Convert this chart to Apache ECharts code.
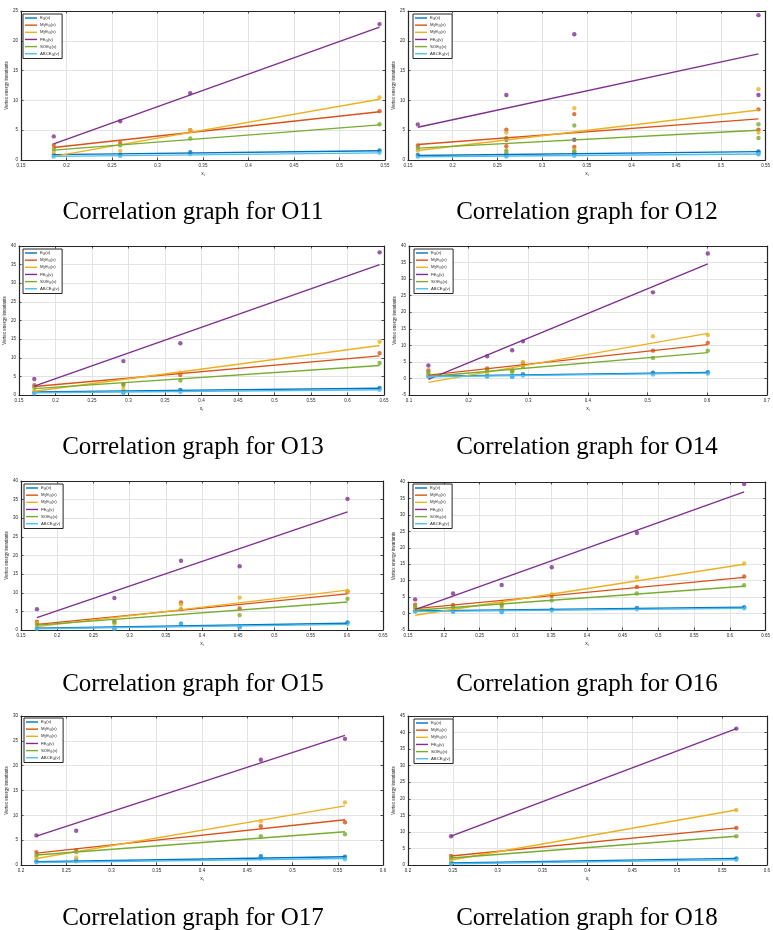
<!DOCTYPE html>
<html>
<head>
<meta charset="utf-8">
<script src="https://cdn.jsdelivr.net/npm/echarts@6/dist/echarts.min.js"></script>
<style>
  html, body { margin: 0; padding: 0; background: #fff; }
  #chart { width: 773px; height: 930px; }
</style>
</head>
<body>
<div id="chart"></div>
<script>
// series order: E, M1E, M2E, FE, SOE, ABCE
const labels = ['E_G(v)', 'M_1E_G(v)', 'M_2E_G(v)', 'FE_G(v)', 'SOE_G(v)', 'ABCE_G(v)'];
const colors = ['#0072BD', '#D95319', '#EDB120', '#7E2F8E', '#77AC30', '#4DBEEE'];

// O11
const o11X = [0.186, 0.259, 0.336, 0.544];
const o11Y = [
  [0.84, 0.85, 1.3, 1.6],
  [2.5, 2.85, 5.0, 8.2],
  [1.4, 1.5, 5.0, 10.5],
  [3.96, 6.5, 11.2, 22.8],
  [1.84, 2.45, 3.6, 6.0],
  [0.56, 0.7, 1.0, 1.2]
];
const o11FitX = [0.186, 0.544];
const o11Fit = [[0.9, 1.55], [2.1, 8.1], [0.6, 10.2], [2.7, 22.3], [1.65, 5.9], [0.6, 1.2]];

// O12
const o12X = [0.161, 0.26, 0.26, 0.336, 0.336, 0.542, 0.542];
const o12Y = [
  [0.84, 1.0, 0.7, 1.2, 0.9, 1.45, 1.2],
  [2.45, 5.08, 2.3, 7.7, 2.2, 8.5, 5.1],
  [1.6, 4.6, 1.3, 8.7, 1.7, 11.9, 4.6],
  [5.97, 10.9, 3.4, 21.1, 3.4, 24.3, 10.9],
  [2.0, 3.7, 1.6, 5.8, 1.45, 6.0, 3.7],
  [0.56, 0.8, 0.6, 0.9, 0.7, 1.0, 0.95]
];
const o12FitX = [0.161, 0.542];
const o12Fit = [[0.75, 1.4], [2.6, 6.9], [1.6, 8.4], [5.5, 17.8], [2.0, 5.0], [0.55, 1.0]];

// O13
const o13X = [0.171, 0.293, 0.371, 0.644];
const o13Y = [
  [0.7, 0.8, 1.35, 1.9],
  [2.6, 3.0, 5.4, 11.25],
  [1.25, 1.6, 6.0, 14.3],
  [4.3, 9.1, 13.9, 38.3],
  [2.05, 2.7, 3.9, 8.6],
  [0.45, 0.55, 0.8, 1.4]
];
const o13FitX = [0.171, 0.644];
const o13Fit = [[0.85, 1.8], [2.3, 10.5], [1.0, 13.3], [2.4, 35.0], [1.7, 7.9], [0.6, 1.4]];

// O14
const o14X = [0.1325, 0.231, 0.273, 0.291, 0.509, 0.601];
const o14Y = [
  [0.8, 0.7, 0.6, 1.3, 1.7, 1.9],
  [2.4, 3.0, 2.4, 4.7, 8.4, 10.75],
  [1.2, 1.6, 2.2, 5.0, 12.75, 13.15],
  [3.9, 6.7, 8.5, 11.2, 26.0, 37.75],
  [1.8, 2.4, 2.0, 3.5, 6.2, 8.4],
  [0.6, 0.6, 0.4, 0.9, 1.2, 1.5]
];
const o14FitX = [0.1325, 0.601];
const o14Fit = [[0.7, 1.8], [1.0, 10.2], [-1.2, 13.6], [-0.3, 34.6], [0.6, 7.8], [0.5, 1.6]];

// O15
const o15X = [0.172, 0.279, 0.371, 0.452, 0.601];
const o15Y = [
  [0.45, 0.45, 1.7, 0.9, 2.05],
  [2.2, 2.4, 7.4, 5.8, 10.3],
  [1.8, 1.7, 6.8, 8.7, 10.45],
  [5.6, 8.6, 18.6, 17.1, 35.2],
  [1.4, 2.05, 5.6, 4.0, 8.4],
  [0.35, 0.35, 1.5, 0.7, 1.7]
];
const o15FitX = [0.172, 0.601];
const o15Fit = [[0.45, 1.8], [1.5, 9.7], [0.9, 10.7], [3.3, 31.7], [1.3, 7.5], [0.35, 1.5]];

// O16
const o16X = [0.16, 0.213, 0.281, 0.351, 0.47, 0.62];
const o16Y = [
  [0.8, 0.7, 0.6, 1.2, 1.7, 1.9],
  [2.7, 2.6, 2.9, 5.4, 8.1, 11.25],
  [1.5, 1.3, 1.5, 5.8, 11.0, 15.2],
  [4.3, 6.1, 8.7, 14.1, 24.5, 39.4],
  [2.0, 2.0, 2.4, 4.0, 6.1, 8.6],
  [0.6, 0.5, 0.4, 0.9, 1.3, 1.6]
];
const o16FitX = [0.16, 0.62];
const o16Fit = [[0.8, 1.9], [1.5, 11.0], [-0.5, 15.0], [1.2, 37.0], [1.0, 8.3], [0.6, 1.6]];

// O17
const o17X = [0.217, 0.261, 0.465, 0.558];
const o17Y = [
  [0.75, 0.9, 1.75, 1.65],
  [2.6, 3.0, 7.8, 8.6],
  [1.5, 1.5, 8.8, 12.6],
  [5.96, 6.9, 21.2, 25.4],
  [2.0, 2.6, 5.8, 6.2],
  [0.55, 0.75, 1.3, 1.15]
];
const o17FitX = [0.217, 0.558];
const o17Fit = [[0.65, 1.65], [2.4, 9.1], [1.3, 11.9], [5.8, 26.1], [2.0, 6.7], [0.5, 1.3]];

// O18
const o18X = [0.248, 0.566];
const o18Y = [
  [0.6, 2.0],
  [2.7, 11.2],
  [1.5, 16.6],
  [8.7, 41.2],
  [2.1, 8.7],
  [0.4, 1.6]
];
const o18FitX = [0.248, 0.566];
const o18Fit = [[0.6, 2.0], [2.7, 11.2], [1.5, 16.6], [8.7, 41.2], [2.1, 8.7], [0.4, 1.6]];

const panels = [
  { title: 'Correlation graph for O11', x: o11X, y: o11Y, fx: o11FitX, fit: o11Fit, xr: [0.15, 0.55, 0.05], yr: [0, 25, 5],
    grid: [21, 11, 364, 149], legend: [23, 14], cap: [193, 212] },
  { title: 'Correlation graph for O12', x: o12X, y: o12Y, fx: o12FitX, fit: o12Fit, xr: [0.15, 0.55, 0.05], yr: [0, 25, 5],
    grid: [408, 11, 365, 149], legend: [413, 14], cap: [587, 212] },
  { title: 'Correlation graph for O13', x: o13X, y: o13Y, fx: o13FitX, fit: o13Fit, xr: [0.15, 0.65, 0.05], yr: [0, 40, 5],
    grid: [19, 246, 365, 149], legend: [23, 249], cap: [193, 447] },
  { title: 'Correlation graph for O14', x: o14X, y: o14Y, fx: o14FitX, fit: o14Fit, xr: [0.1, 0.7, 0.1], yr: [-5, 40, 5],
    grid: [409, 246, 364, 149], legend: [414, 249], cap: [587, 447] },
  { title: 'Correlation graph for O15', x: o15X, y: o15Y, fx: o15FitX, fit: o15Fit, xr: [0.15, 0.65, 0.05], yr: [0, 40, 5],
    grid: [21, 481, 362, 149], legend: [24, 484], cap: [193, 684] },
  { title: 'Correlation graph for O16', x: o16X, y: o16Y, fx: o16FitX, fit: o16Fit, xr: [0.15, 0.65, 0.05], yr: [-5, 40, 5],
    grid: [408, 482, 365, 148], legend: [413, 484], cap: [587, 684] },
  { title: 'Correlation graph for O17', x: o17X, y: o17Y, fx: o17FitX, fit: o17Fit, xr: [0.2, 0.6, 0.05], yr: [0, 30, 5],
    grid: [21, 716, 362, 149], legend: [24, 718], cap: [193, 918] },
  { title: 'Correlation graph for O18', x: o18X, y: o18Y, fx: o18FitX, fit: o18Fit, xr: [0.2, 0.6, 0.05], yr: [0, 45, 5],
    grid: [408, 716, 365, 149], legend: [414, 719], cap: [587, 918] }
];

const ink = '#262626';
const tickFont = 'Liberation Sans';

const toRich = (s) => {
  // "M_1E_G(v)" -> rich tokens with subscripts
  let out = '';
  let i = 0;
  let buf = '';
  while (i < s.length) {
    if (s[i] === '_') {
      if (buf) { out += '{n|' + buf + '}'; buf = ''; }
      out += '{s|' + s[i + 1] + '}';
      i += 2;
    } else {
      buf += s[i];
      i++;
    }
  }
  if (buf) out += '{n|' + buf + '}';
  return out;
};

const axisCommon = (show) => ({
  axisLine: { show: true, onZero: false, lineStyle: { color: ink, width: 1.2 } },
  axisTick: { show: true, inside: true, length: 2.5, lineStyle: { color: ink, width: 0.8 } },
  axisLabel: { show: show, fontSize: 4.5, color: ink, fontFamily: tickFont, margin: 3 }
});

const grids = [], xAxes = [], yAxes = [], series = [], legends = [], graphics = [];

panels.forEach((p, i) => {
  grids.push({ left: p.grid[0], top: p.grid[1], width: p.grid[2], height: p.grid[3] });

  xAxes.push(Object.assign(axisCommon(true), {
    type: 'value', gridIndex: i, position: 'bottom', min: p.xr[0], max: p.xr[1], interval: p.xr[2],
    name: '{n|x}{s|i}', nameLocation: 'middle', nameGap: 10,
    nameTextStyle: { color: ink, fontFamily: tickFont, rich: { n: { fontSize: 5, color: ink }, s: { fontSize: 3.5, color: ink, padding: [3, 0, 0, 0] } } },
    splitLine: { show: true, lineStyle: { color: '#e3e3e3', width: 1 } }
  }));
  xAxes.push(Object.assign(axisCommon(false), {
    type: 'value', gridIndex: i, position: 'top', min: p.xr[0], max: p.xr[1], interval: p.xr[2],
    splitLine: { show: false }
  }));

  yAxes.push(Object.assign(axisCommon(true), {
    type: 'value', gridIndex: i, position: 'left', min: p.yr[0], max: p.yr[1], interval: p.yr[2],
    name: 'Vertex energy invariants', nameLocation: 'middle', nameGap: 10, nameRotate: 90,
    nameTextStyle: { fontSize: 4.5, color: ink, fontFamily: tickFont },
    splitLine: { show: true, lineStyle: { color: '#e3e3e3', width: 1 } }
  }));
  yAxes.push(Object.assign(axisCommon(false), {
    type: 'value', gridIndex: i, position: 'right', min: p.yr[0], max: p.yr[1], interval: p.yr[2],
    splitLine: { show: false }
  }));

  labels.forEach((lab, s) => {
    series.push({
      name: lab, type: 'line', xAxisIndex: 2 * i, yAxisIndex: 2 * i,
      data: p.fx.map((x, k) => [x, p.fit[s][k]]),
      symbol: 'none', color: colors[s],
      lineStyle: { color: colors[s], width: 1.4 }
    });
    series.push({
      name: lab, type: 'scatter', xAxisIndex: 2 * i, yAxisIndex: 2 * i,
      data: p.x.map((x, k) => [x, p.y[s][k]]),
      symbolSize: 4.4, itemStyle: { color: colors[s] }
    });
  });

  legends.push({
    left: p.legend[0], top: p.legend[1], orient: 'vertical',
    data: labels, icon: 'rect', itemWidth: 12, itemHeight: 1.4, itemGap: 2.4,
    padding: [2, 3, 2, 2], borderColor: ink, borderWidth: 1, backgroundColor: '#fff',
    selectedMode: false,
    formatter: (name) => toRich(name),
    textStyle: {
      color: ink, fontFamily: tickFont, fontSize: 4.3, padding: [0, 0, 0, -2],
      rich: {
        n: { fontSize: 4.3, color: ink, fontFamily: tickFont },
        s: { fontSize: 3.1, color: ink, fontFamily: tickFont, padding: [2.5, 0, 0, 0] }
      }
    }
  });

  graphics.push({
    type: 'text', x: p.cap[0], y: p.cap[1],
    style: {
      text: p.title, fill: '#000', fontSize: 25, fontFamily: 'Liberation Serif',
      textAlign: 'center', textVerticalAlign: 'middle'
    }
  });
});

const chart = echarts.init(document.getElementById('chart'), null, { renderer: 'canvas' });
chart.setOption({
  backgroundColor: '#fff',
  animation: false,
  grid: grids,
  xAxis: xAxes,
  yAxis: yAxes,
  legend: legends,
  series: series,
  graphic: graphics
});
</script>
</body>
</html>
